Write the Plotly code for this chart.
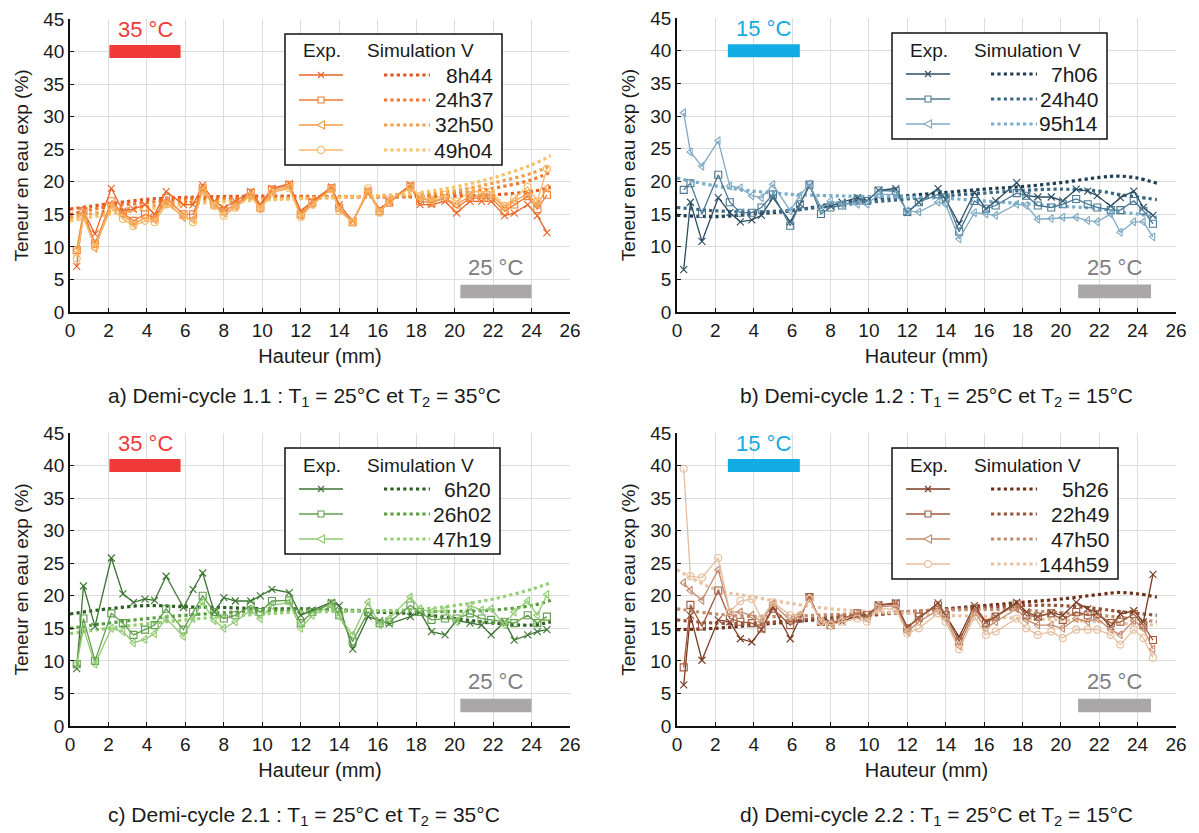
import plotly.graph_objects as go

# heights (mm) of the measurement points, shared by every panel
hauteur = [0.35, 0.7, 1.3, 2.15, 2.75, 3.3, 3.9, 4.4, 5.0, 5.9, 6.4, 6.9, 7.5, 8.0, 8.6, 9.4,
           9.9, 10.5, 11.4, 12.0, 12.6, 13.6, 14.0, 14.7, 15.5, 16.1, 16.6, 17.7, 18.2, 18.8,
           19.5, 20.1, 20.8, 21.4, 21.9, 22.6, 23.1, 23.8, 24.3, 24.8]

# ---- a) demi-cycle 1.1
a_labels = ["8h44", "24h37", "32h50", "49h04"]
a_exp = [
    [7.0, 15.5, 12.0, 19.0, 15.5, 15.8, 16.5, 15.0, 18.5, 16.5, 16.5, 19.5, 17.0, 16.0, 17.0, 18.5,
     16.5, 19.0, 19.7, 15.5, 17.0, 19.2, 16.5, 14.0, 18.5, 15.8, 17.0, 19.5, 16.5, 16.5,
     17.0, 15.2, 17.0, 17.0, 17.0, 14.8, 15.2, 16.5, 14.8, 12.2],
    [9.5, 15.5, 10.5, 17.0, 15.2, 14.0, 15.0, 14.5, 17.5, 15.0, 15.0, 19.0, 16.5, 15.5, 16.5, 18.3,
     16.0, 18.8, 19.5, 15.0, 16.8, 19.0, 16.0, 13.8, 18.5, 15.5, 16.8, 19.3, 17.0, 16.8,
     17.5, 16.0, 17.5, 17.5, 17.5, 15.5, 16.5, 17.8, 15.8, 18.0],
    [9.5, 15.0, 9.8, 16.5, 15.0, 13.5, 14.5, 14.2, 17.0, 14.5, 14.2, 18.8, 16.5, 15.2, 16.2, 18.0,
     16.0, 18.5, 19.2, 14.8, 16.5, 19.0, 15.8, 13.8, 18.5, 15.3, 17.0, 19.2, 17.5, 17.0,
     17.5, 16.5, 17.8, 17.8, 18.0, 16.0, 17.0, 18.2, 16.5, 19.0],
    [8.2, 14.5, 10.0, 16.0, 14.3, 13.2, 14.0, 13.8, 16.5, 14.8, 13.8, 18.5, 16.3, 14.8, 16.0, 17.8,
     15.8, 18.3, 19.0, 14.6, 16.5, 18.8, 15.5, 13.8, 19.0, 15.3, 17.2, 19.0, 17.8, 17.2,
     18.0, 17.0, 18.5, 18.5, 18.5, 16.3, 17.5, 19.2, 17.0, 22.0],
]
a_sim_x = [0, 2, 4, 6, 10, 14, 18, 20, 22, 24, 25]
a_sim = [
    [15.8, 16.6, 17.3, 17.6, 17.8, 17.7, 17.7, 17.8, 18.0, 18.5, 19.2],
    [15.0, 16.2, 16.8, 17.3, 17.5, 17.7, 17.8, 18.2, 19.0, 20.3, 21.5],
    [14.5, 15.5, 16.2, 16.8, 17.3, 17.6, 18.0, 18.6, 19.8, 21.3, 22.5],
    [14.0, 15.0, 15.8, 16.5, 17.2, 17.6, 18.3, 19.2, 20.6, 22.6, 24.0],
]
a_exp_col = ["#ea6226", "#ef7d33", "#f39a47", "#f7b867"]
a_sim_col = ["#e4561f", "#ef7a2c", "#f4a044", "#f8c165"]

# ---- b) demi-cycle 1.2
b_labels = ["7h06", "24h40", "95h14"]
b_exp = [
    [6.5, 16.8, 10.8, 17.5, 15.2, 13.8, 14.1, 14.8, 17.5, 13.8, 16.5, 19.3, 16.0, 16.2, 16.8, 17.5,
     17.0, 18.6, 18.9, 15.2, 16.8, 18.9, 17.2, 13.5, 18.3, 15.8, 17.0, 19.8, 17.8, 17.6,
     17.6, 17.0, 18.8, 18.5, 17.8, 16.2, 17.5, 18.5, 16.0, 14.8],
    [18.7, 19.7, 15.0, 21.0, 16.8, 15.2, 15.2, 16.0, 18.0, 13.2, 16.5, 19.5, 15.0, 16.0, 16.3, 17.2,
     17.0, 18.6, 18.5, 15.3, 16.8, 18.0, 17.5, 12.3, 17.0, 15.8, 16.3, 18.2, 17.8, 16.3,
     16.0, 16.5, 17.3, 16.5, 16.0, 15.6, 15.6, 17.0, 15.5, 13.5],
    [30.5, 24.5, 22.3, 26.2, 19.3, 19.0, 17.8, 17.5, 19.5, 15.5, 17.8, 19.6, 15.8, 17.0, 16.5, 16.5,
     16.5, 18.0, 18.0, 15.5, 15.3, 16.8, 16.5, 11.2, 15.2, 15.0, 14.8, 16.5, 16.3, 14.2,
     14.3, 14.5, 14.5, 14.0, 13.8, 15.0, 12.2, 13.8, 13.8, 11.5],
]
b_sim_x = [0, 2, 4, 6, 8, 10, 12, 14, 16, 18, 20, 22, 23, 24, 25]
b_sim = [
    [14.8, 14.6, 15.0, 15.5, 16.5, 17.2, 17.8, 18.3, 18.8, 19.2, 19.8, 20.6, 20.8, 20.5, 19.7],
    [16.0, 15.5, 15.3, 15.6, 16.2, 16.8, 17.3, 17.8, 18.2, 18.6, 18.8, 18.5, 18.0, 17.6, 17.2],
    [20.5, 19.3, 18.5, 18.0, 17.8, 17.7, 17.6, 17.4, 17.0, 16.6, 16.2, 15.8, 15.3, 15.0, 14.5],
]
b_exp_col = ["#2c4d60", "#4a7892", "#7eaac4"]
b_sim_col = ["#1e3c52", "#3a6884", "#78aecb"]

# ---- c) demi-cycle 2.1
c_labels = ["6h20", "26h02", "47h19"]
c_exp = [
    [8.8, 21.5, 15.3, 25.8, 20.3, 19.0, 19.5, 19.3, 23.0, 18.2, 21.0, 23.5, 17.5, 19.7, 19.2, 19.2,
     20.0, 21.0, 20.5, 17.0, 17.8, 19.0, 18.5, 11.8, 16.8, 16.2, 15.7, 16.8, 17.5, 14.5,
     14.0, 16.2, 15.8, 15.5, 14.0, 16.0, 13.2, 14.0, 14.5, 14.8],
    [9.5, 16.5, 10.0, 17.3, 15.8, 14.0, 14.8, 15.5, 18.0, 14.8, 17.5, 20.0, 17.5, 16.5, 17.0, 18.5,
     17.5, 19.2, 19.3, 15.8, 17.5, 18.8, 17.0, 13.0, 17.5, 15.8, 16.0, 18.5, 17.5, 16.3,
     16.5, 16.5, 17.3, 16.5, 16.3, 16.0, 15.8, 17.0, 15.8, 16.8],
    [9.5, 15.0, 9.5, 15.0, 14.5, 12.8, 13.3, 14.2, 16.5, 13.8, 16.5, 19.0, 16.2, 15.0, 16.0, 17.8,
     16.5, 18.5, 19.0, 15.0, 17.0, 18.5, 16.8, 14.0, 19.0, 15.5, 16.5, 19.8, 18.0, 17.5,
     17.8, 16.0, 18.5, 17.8, 18.0, 15.5, 17.5, 19.2, 17.0, 20.2],
]
c_sim_x = [0, 2, 4, 6, 8, 10, 12, 14, 16, 18, 20, 22, 24, 25]
c_sim = [
    [17.2, 18.0, 18.5, 18.3, 18.2, 18.0, 18.0, 17.8, 17.5, 17.2, 16.5, 15.8, 15.5, 16.0],
    [15.0, 15.8, 16.5, 17.0, 17.4, 17.7, 17.8, 17.8, 17.7, 17.6, 17.6, 17.8, 18.5, 19.3],
    [14.2, 15.0, 15.7, 16.3, 16.8, 17.2, 17.5, 17.6, 17.7, 17.9, 18.5, 19.5, 21.0, 22.0],
]
c_exp_col = ["#3b7430", "#5f9e4a", "#8fca72"]
c_sim_col = ["#2b5f22", "#58a03e", "#94cf74"]

# ---- d) demi-cycle 2.2
d_labels = ["5h26", "22h49", "47h50", "144h59"]
d_exp = [
    [6.3, 17.0, 10.1, 16.3, 16.0, 13.4, 12.9, 14.8, 18.3, 13.4, 16.5, 19.8, 15.9, 15.8, 16.0, 17.0,
     16.8, 18.6, 18.9, 15.2, 16.5, 18.9, 17.0, 13.7, 18.5, 16.0, 16.8, 19.0, 17.5, 16.8,
     17.4, 17.0, 19.0, 18.0, 17.4, 15.3, 17.2, 17.7, 16.0, 23.3],
    [9.0, 18.6, 15.3, 20.8, 16.5, 16.0, 15.8, 15.0, 18.0, 15.5, 16.5, 19.8, 16.0, 15.5, 16.5, 17.3,
     17.0, 18.5, 18.8, 15.0, 16.8, 18.5, 17.0, 13.0, 18.0, 15.8, 16.8, 18.7, 17.0, 16.8,
     17.3, 16.3, 17.5, 17.0, 17.2, 15.8, 16.0, 17.2, 15.5, 13.2],
    [22.0, 20.8, 19.3, 24.0, 17.5, 17.5, 17.0, 16.0, 18.8, 16.2, 17.0, 19.5, 16.0, 15.8, 16.5, 17.0,
     16.5, 18.3, 18.5, 14.5, 16.0, 17.8, 16.5, 12.3, 17.5, 15.0, 16.0, 18.0, 16.3, 15.5,
     15.5, 15.0, 16.5, 16.0, 16.5, 14.8, 14.0, 16.2, 15.0, 11.8],
    [39.5, 23.0, 22.8, 25.8, 17.5, 19.2, 19.5, 16.5, 19.0, 17.0, 17.0, 19.5, 16.0, 15.5, 16.0, 16.5,
     16.0, 18.0, 18.0, 14.2, 15.0, 17.3, 16.0, 11.8, 16.8, 14.0, 14.5, 16.5, 15.0, 14.0,
     14.5, 13.5, 14.8, 14.8, 14.8, 14.0, 12.5, 14.8, 13.5, 10.5],
]
d_sim_x = [0, 2, 4, 6, 8, 10, 12, 14, 16, 18, 20, 22, 23, 24, 25]
d_sim = [
    [14.8, 15.0, 15.5, 16.0, 16.5, 17.0, 17.5, 18.0, 18.5, 19.0, 19.5, 20.2, 20.5, 20.3, 19.8],
    [16.3, 15.8, 15.8, 16.2, 16.7, 17.1, 17.5, 17.9, 18.2, 18.5, 18.5, 18.0, 17.6, 17.3, 17.0],
    [18.0, 17.2, 16.8, 16.9, 17.1, 17.3, 17.6, 17.8, 17.9, 17.8, 17.4, 17.0, 16.7, 16.4, 16.0],
    [24.0, 21.0, 19.8, 18.8, 18.0, 17.6, 17.3, 17.0, 16.8, 16.5, 16.3, 16.0, 15.8, 15.6, 15.5],
]
d_exp_col = ["#7a3a22", "#9e5a3c", "#c4896b", "#e6bd9b"]
d_sim_col = ["#6e2e18", "#94533a", "#c28a6c", "#e8c29f"]

symbols = ["x-thin-open", "square-open", "triangle-left-open", "circle-open"]
FONT = "Liberation Sans, Arial, sans-serif"
TXT = "#1a1a1a"
W, H = 1199, 833

panels = [
    dict(exp=a_exp, sim_x=a_sim_x, sim=a_sim, labels=a_labels, ecol=a_exp_col, scol=a_sim_col,
         px=(70, 570), py=(19, 312), hot="35 °C", hotcol="#f03a3a", bar=(2.05, 5.75), gray=(20.3, 24.0),
         caption="a) Demi-cycle 1.1 : T<sub>1</sub> = 25°C et T<sub>2</sub> = 35°C", capx=304, capy=397,
         boxr=432),
    dict(exp=b_exp, sim_x=b_sim_x, sim=b_sim, labels=b_labels, ecol=b_exp_col, scol=b_sim_col,
         px=(677, 1176), py=(18, 312), hot="15 °C", hotcol="#12abe4", bar=(2.65, 6.4), gray=(20.9, 24.7),
         caption="b) Demi-cycle 1.2 : T<sub>1</sub> = 25°C et T<sub>2</sub> = 15°C", capx=936, capy=397,
         boxr=430),
    dict(exp=c_exp, sim_x=c_sim_x, sim=c_sim, labels=c_labels, ecol=c_exp_col, scol=c_sim_col,
         px=(70, 570), py=(433, 726), hot="35 °C", hotcol="#f03a3a", bar=(2.05, 5.75), gray=(20.3, 24.0),
         caption="c) Demi-cycle 2.1 : T<sub>1</sub> = 25°C et T<sub>2</sub> = 35°C", capx=304, capy=816,
         boxr=430),
    dict(exp=d_exp, sim_x=d_sim_x, sim=d_sim, labels=d_labels, ecol=d_exp_col, scol=d_sim_col,
         px=(677, 1176), py=(433, 726), hot="15 °C", hotcol="#12abe4", bar=(2.65, 6.4), gray=(20.9, 24.7),
         caption="d) Demi-cycle 2.2 : T<sub>1</sub> = 25°C et T<sub>2</sub> = 15°C", capx=936, capy=816,
         boxr=441),
]


def marker_shape(k, x, y, col):
    # small legend glyph drawn in pixels around a paper-coordinate anchor
    base = dict(xref="paper", yref="paper", xsizemode="pixel", ysizemode="pixel",
                xanchor=x, yanchor=y, line=dict(color=col, width=1.1), layer="above")
    if k == 0:
        return dict(base, type="path", path="M -3,-3 L 3,3 M -3,3 L 3,-3")
    if k == 1:
        return dict(base, type="rect", x0=-3, x1=3, y0=-3, y1=3, fillcolor="white")
    if k == 2:
        return dict(base, type="path", path="M 3.5,-4 L -4,0 L 3.5,4 Z", fillcolor="white")
    return dict(base, type="circle", x0=-3.5, x1=3.5, y0=-3.5, y1=3.5, fillcolor="white")


fig = go.Figure()
shapes, annotations = [], []
layout = {}

for i, p in enumerate(panels):
    n = i + 1
    xa, ya = ("x", "y") if n == 1 else (f"x{n}", f"y{n}")
    ox, oy = p["px"][0], p["py"][0]

    # simulation curves (dotted) then experimental curves
    for k, ys in enumerate(p["sim"]):
        fig.add_trace(go.Scatter(x=p["sim_x"], y=ys, mode="lines", xaxis=xa, yaxis=ya,
                                 line=dict(color=p["scol"][k], width=3.2, dash="dot", shape="spline"),
                                 showlegend=False, hoverinfo="skip"))
    for k, ys in enumerate(p["exp"]):
        fig.add_trace(go.Scatter(x=hauteur, y=ys, mode="lines+markers", xaxis=xa, yaxis=ya,
                                 line=dict(color=p["ecol"][k], width=1.3),
                                 marker=dict(symbol=symbols[k], size=7, color=p["ecol"][k],
                                             line=dict(color=p["ecol"][k], width=1.1)),
                                 showlegend=False))

    axfmt = dict(showline=True, linecolor="#111", linewidth=1.6, mirror=False, automargin=False,
                 showgrid=True, gridcolor="#dcdcdc", gridwidth=1, zeroline=False,
                 ticks="inside", ticklen=4, tickcolor="#111",
                 tickfont=dict(family=FONT, size=19, color=TXT))
    xd = [p["px"][0] / W, p["px"][1] / W]
    yd = [1 - p["py"][1] / H, 1 - p["py"][0] / H]
    layout["xaxis" if n == 1 else f"xaxis{n}"] = dict(
        axfmt, domain=xd, range=[0, 26], dtick=2, anchor=ya,
        title=dict(text="Hauteur (mm)", font=dict(family=FONT, size=20, color=TXT), standoff=9))
    layout["yaxis" if n == 1 else f"yaxis{n}"] = dict(
        axfmt, domain=yd, range=[0, 45], dtick=5, anchor=xa,
        title=dict(text="Teneur en eau exp (%)", font=dict(family=FONT, size=19, color=TXT), standoff=10))

    # hand-made legend box, positioned in pixels from the panel's top-left corner
    def PX(v):
        return (ox + v) / W

    def PY(v):
        return 1 - (oy + v) / H

    nrow = len(p["labels"])
    top, header, row0, step = 15, 32, 56, 25
    bottom = row0 + step * (nrow - 1) + 15
    shapes.append(dict(type="rect", xref="paper", yref="paper", x0=PX(215), x1=PX(p["boxr"]),
                       y0=PY(bottom), y1=PY(top), fillcolor="white",
                       line=dict(color="#111", width=1.5), layer="above"))
    annotations.append(dict(xref="paper", yref="paper", x=PX(252), y=PY(header), text="Exp.",
                            xanchor="center", yanchor="middle", showarrow=False,
                            font=dict(family=FONT, size=19, color=TXT)))
    annotations.append(dict(xref="paper", yref="paper", x=PX(350), y=PY(header), text="Simulation V",
                            xanchor="center", yanchor="middle", showarrow=False,
                            font=dict(family=FONT, size=19, color=TXT)))
    for k, lab in enumerate(p["labels"]):
        ry = PY(row0 + step * k)
        shapes.append(dict(type="line", xref="paper", yref="paper", x0=PX(229), x1=PX(273), y0=ry, y1=ry,
                           line=dict(color=p["ecol"][k], width=1.3), layer="above"))
        shapes.append(marker_shape(k, PX(251), ry, p["ecol"][k]))
        shapes.append(dict(type="line", xref="paper", yref="paper", x0=PX(314), x1=PX(360), y0=ry, y1=ry,
                           line=dict(color=p["scol"][k], width=3.2, dash="dot"), layer="above"))
        annotations.append(dict(xref="paper", yref="paper", x=PX(p["boxr"] - 7), y=ry, text=lab,
                                xanchor="right", yanchor="middle", showarrow=False,
                                font=dict(family=FONT, size=21, color=TXT)))

    # temperature markers
    shapes.append(dict(type="rect", xref=xa, yref=ya, x0=p["bar"][0], x1=p["bar"][1], y0=39.0, y1=41.0,
                       fillcolor=p["hotcol"], line=dict(width=0), layer="above"))
    annotations.append(dict(xref=xa, yref=ya, x=sum(p["bar"]) / 2, y=43.4, text=p["hot"], showarrow=False,
                            xanchor="center", font=dict(family=FONT, size=22, color=p["hotcol"])))
    shapes.append(dict(type="rect", xref=xa, yref=ya, x0=p["gray"][0], x1=p["gray"][1], y0=2.1, y1=4.2,
                       fillcolor="#a9a7a7", line=dict(width=0), layer="above"))
    annotations.append(dict(xref=xa, yref=ya, x=sum(p["gray"]) / 2, y=6.8, text="25 °C", showarrow=False,
                            xanchor="center", font=dict(family=FONT, size=22, color="#7d7d7d")))
    # caption under the panel
    annotations.append(dict(xref="paper", yref="paper", x=p["capx"] / W, xanchor="center",
                            y=1 - p["capy"] / H, yanchor="middle", text=p["caption"],
                            showarrow=False, font=dict(family=FONT, size=21, color=TXT)))

fig.update_layout(width=W, height=H, margin=dict(l=0, r=0, t=0, b=0, autoexpand=False),
                  paper_bgcolor="white", plot_bgcolor="white",
                  shapes=shapes, annotations=annotations, **layout)

# drop the default page margin so the figure sits at the window's corner
fig.write_html("out.html", config={"displayModeBar": False},
               post_script="document.body.style.margin = '0px';")
